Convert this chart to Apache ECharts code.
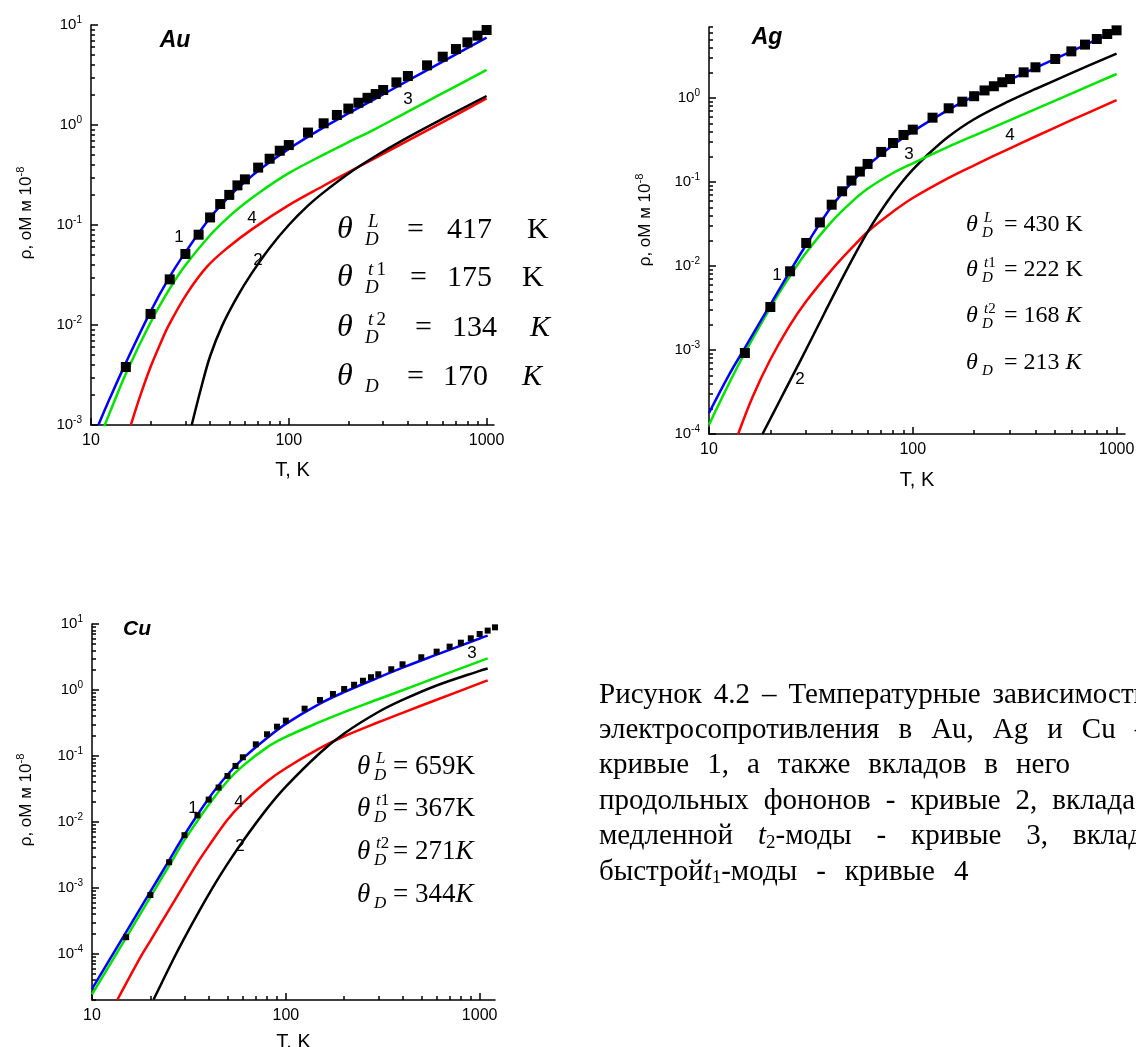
<!DOCTYPE html>
<html>
<head>
<meta charset="utf-8">
<style>
html, body { margin: 0; padding: 0; background: #fff; }
#chart { width: 1136px; height: 1047px; }
</style>
<script src="https://cdn.jsdelivr.net/npm/echarts@6/dist/echarts.min.js"></script>
</head>
<body>
<div id="chart"></div>
<script>
// ---- values ----
// measured points (squares): T in K, rho in 1e-8 Ohm m
const auT = [15, 20, 25, 30, 35, 40, 45, 50, 55, 60, 70, 80, 90, 100, 125, 150, 175, 200, 225, 250, 275, 300, 350, 400, 500, 600, 700, 800, 900, 1000];
const auRho = [0.0038, 0.0129, 0.0286, 0.0513, 0.080, 0.119, 0.162, 0.200, 0.249, 0.286, 0.375, 0.46, 0.553, 0.63, 0.84, 1.04, 1.26, 1.46, 1.67, 1.87, 2.04, 2.24, 2.67, 3.09, 3.95, 4.82, 5.75, 6.71, 7.82, 8.91];
const agT = [15, 20, 25, 30, 35, 40, 45, 50, 55, 60, 70, 80, 90, 100, 125, 150, 175, 200, 225, 250, 275, 300, 350, 400, 500, 600, 700, 800, 900, 1000];
const agRho = [0.00092, 0.00325, 0.00865, 0.0188, 0.033, 0.0537, 0.0775, 0.104, 0.133, 0.164, 0.228, 0.291, 0.363, 0.42, 0.583, 0.754, 0.904, 1.05, 1.23, 1.38, 1.54, 1.68, 2.02, 2.32, 2.91, 3.59, 4.32, 5.04, 5.78, 6.39];
const cuT = [15, 20, 25, 30, 35, 40, 45, 50, 55, 60, 70, 80, 90, 100, 125, 150, 175, 200, 225, 250, 275, 300, 350, 400, 500, 600, 700, 800, 900, 1000, 1100, 1200];
const cuRho = [0.000179, 0.00078, 0.00245, 0.0063, 0.0126, 0.0218, 0.0332, 0.0498, 0.0706, 0.0955, 0.150, 0.213, 0.278, 0.343, 0.521, 0.705, 0.87, 1.035, 1.2, 1.38, 1.56, 1.73, 2.06, 2.45, 3.13, 3.81, 4.54, 5.21, 6.07, 7.05, 7.94, 8.9];

// curves: 1 - total, 2 - longitudinal, 3 - slow t2, 4 - fast t1   [T, rho]
const auCurve1 = [[10.9, 0.001], [12.5, 0.00188], [15, 0.00418], [20, 0.0136], [25, 0.0304], [30, 0.0532], [40, 0.118], [50, 0.193], [60, 0.27], [75, 0.386], [100, 0.577], [150, 0.946], [200, 1.305], [270, 1.805], [400, 2.78], [600, 4.31], [1000, 7.48]];
const auCurve2 = [[32.3, 0.001], [36, 0.00233], [40, 0.00487], [46, 0.0098], [55, 0.0193], [65, 0.033], [80, 0.059], [100, 0.1], [125, 0.156], [150, 0.212], [200, 0.326], [270, 0.479], [400, 0.752], [600, 1.156], [1000, 1.95]];
const auCurve3 = [[11.5, 0.0009], [12.5, 0.00136], [15, 0.00326], [20, 0.0106], [25, 0.0231], [30, 0.0396], [40, 0.079], [50, 0.122], [60, 0.165], [75, 0.228], [100, 0.33], [150, 0.505], [200, 0.673], [270, 0.9], [400, 1.36], [600, 2.08], [1000, 3.55]];
const auCurve4 = [[15.9, 0.001], [17.8, 0.002], [20, 0.0038], [22.3, 0.00635], [24.7, 0.0099], [30.6, 0.0207], [38.6, 0.0383], [48.7, 0.0585], [65.8, 0.092], [100, 0.158], [150, 0.247], [200, 0.337], [270, 0.462], [400, 0.698], [600, 1.068], [1000, 1.85]];

const agCurve1 = [[10, 0.000178], [12.5, 0.0005], [15, 0.00106], [20, 0.00347], [25, 0.0087], [30, 0.0179], [40, 0.0513], [50, 0.098], [60, 0.156], [80, 0.275], [100, 0.40], [150, 0.726], [200, 1.05], [300, 1.65], [400, 2.28], [600, 3.59], [1000, 6.39]];
const agCurve2 = [[18.3, 0.0001], [22, 0.000237], [26, 0.00052], [30, 0.00102], [35, 0.00214], [40, 0.00406], [51, 0.01255], [61.6, 0.0282], [74.6, 0.0574], [87, 0.0946], [100, 0.14], [119, 0.214], [150, 0.348], [200, 0.559], [300, 0.928], [400, 1.28], [600, 1.975], [1000, 3.38]];
const agCurve3 = [[10, 0.000129], [12.5, 0.000394], [15, 0.000928], [20, 0.0032], [25, 0.00763], [30, 0.01445], [40, 0.0338], [50, 0.0577], [60, 0.0831], [80, 0.128], [100, 0.167], [150, 0.263], [200, 0.357], [300, 0.546], [400, 0.739], [600, 1.13], [1000, 1.93]];
const agCurve4 = [[13.9, 0.0001], [16.4, 0.00028], [20, 0.00077], [24.7, 0.0019], [30, 0.0038], [40, 0.009], [51, 0.0171], [61.6, 0.027], [80, 0.0444], [100, 0.0645], [150, 0.112], [200, 0.158], [300, 0.252], [400, 0.348], [600, 0.544], [1000, 0.944]];

const cuCurve1 = [[10, 2.95e-5], [12.5, 8.75e-5], [15, 2.14e-4], [20, 8.77e-4], [25, 0.00262], [30, 0.0064], [40, 0.0227], [50, 0.0518], [60, 0.0912], [80, 0.187], [100, 0.306], [150, 0.621], [200, 0.929], [300, 1.54], [400, 2.18], [600, 3.43], [1000, 6.02], [1100, 6.65]];
const cuCurve2 = [[20.8, 2.03e-5], [26.4, 8.5e-5], [30, 1.75e-4], [36.2, 4.77e-4], [43, 0.00114], [50, 0.00231], [60, 0.0051], [80, 0.0159], [100, 0.0343], [150, 0.111], [200, 0.219], [300, 0.463], [400, 0.706], [600, 1.17], [1000, 1.95], [1100, 2.12]];
const cuCurve3 = [[10, 2.44e-5], [12.5, 7.25e-5], [15, 1.77e-4], [20, 7.26e-4], [25, 0.00217], [30, 0.0053], [40, 0.01825], [50, 0.0417], [60, 0.0707], [80, 0.135], [100, 0.194], [150, 0.328], [200, 0.463], [300, 0.723], [400, 0.992], [600, 1.55], [1000, 2.72], [1100, 3.02]];
const cuCurve4 = [[13.5, 2e-5], [17.7, 8.7e-5], [20, 1.58e-4], [25, 4.7e-4], [30, 0.00114], [35, 0.0024], [40, 0.0043], [50, 0.0108], [60, 0.0194], [80, 0.041], [100, 0.065], [150, 0.131], [200, 0.199], [300, 0.324], [400, 0.451], [600, 0.71], [1000, 1.26], [1100, 1.40]];

const xTickLabels = [10, 100, 1000];
const auYTicks = [1e-3, 1e-2, 1e-1, 1, 10];
const agYTicks = [1e-4, 1e-3, 1e-2, 1e-1, 1];
const cuYTicks = [1e-4, 1e-3, 1e-2, 1e-1, 1, 10];

const auTheta = [['L', '417', 'K'], ['t 1', '175', 'K'], ['t 2', '134', 'K'], ['', '170', 'K']];
const agTheta = [['L', '430', 'K'], ['t1', '222', 'K'], ['t2', '168', 'K'], ['', '213', 'K']];
const cuTheta = [['L', '659', 'K'], ['t1', '367', 'K'], ['t2', '271', 'K'], ['', '344', 'K']];

const captionWords = [
  ['Рисунок', '4.2', '–', 'Температурные', 'зависимости'],
  ['электросопротивления', 'в', 'Au,', 'Ag', 'и', 'Cu', '–'],
  ['кривые', '1,', 'а', 'также', 'вкладов', 'в', 'него'],
  ['продольных', 'фононов', '-', 'кривые', '2,', 'вклада'],
  ['медленной', 't2-моды', '-', 'кривые', '3,', 'вклада'],
  ['быстройt1-моды', '-', 'кривые', '4']
];

// ---- layout ----
const SANS = 'Liberation Sans, Arial, sans-serif';
const SERIF = 'Liberation Serif, Times New Roman, serif';
const BLUE = '#0000ff', GREEN = '#00e600', RED = '#ff0000', BLACK = '#000000';

const panels = [
  { grid: { left: 91, top: 25, width: 403, height: 400 }, xMax: 1090, yMin: 1e-3, yMax: 10, yTicks: auYTicks,
    T: auT, rho: auRho, curves: [auCurve4, auCurve2, auCurve3, auCurve1], sym: 10, xNameGap: 35 },
  { grid: { left: 709, top: 27, width: 416, height: 407 }, xMax: 1100, yMin: 1e-4, yMax: 7, yTicks: agYTicks,
    T: agT, rho: agRho, curves: [agCurve4, agCurve2, agCurve3, agCurve1], sym: 10, xNameGap: 36 },
  { grid: { left: 92, top: 624, width: 403, height: 376 }, xMax: 1200, yMin: 2e-5, yMax: 10, yTicks: cuYTicks,
    T: cuT, rho: cuRho, curves: [cuCurve4, cuCurve2, cuCurve3, cuCurve1], sym: 6, xNameGap: 32 }
];
const curveColors = [RED, BLACK, GREEN, BLUE];

function minorTicks(lo, hi) {
  const out = [];
  for (let e = Math.floor(Math.log10(lo)); e <= Math.ceil(Math.log10(hi)); e++) {
    for (let m = 2; m <= 9; m++) {
      const v = +(m * Math.pow(10, e)).toPrecision(3);
      if (v >= lo * 0.999 && v <= hi * 1.001) out.push(v);
    }
  }
  return out;
}

const lineW = { color: '#000', width: 1.5 };
const xAxes = [], yAxes = [], series = [];

panels.forEach((p, i) => {
  xAxes.push({
    type: 'log', gridIndex: i, position: 'bottom', min: 10, max: p.xMax,
    axisLine: { show: true, onZero: false, lineStyle: lineW },
    axisTick: { show: true, inside: true, length: 7, customValues: xTickLabels, lineStyle: lineW },
    axisLabel: { customValues: xTickLabels, formatter: (v) => String(Math.round(v)), margin: 8,
      fontSize: 16, fontFamily: SANS, color: '#000' },
    splitLine: { show: false },
    name: 'T, K', nameLocation: 'middle', nameGap: p.xNameGap,
    nameTextStyle: { fontSize: 20, fontFamily: SANS, color: '#000' }
  });
  xAxes.push({
    type: 'log', gridIndex: i, position: 'bottom', min: 10, max: p.xMax,
    axisLine: { show: false },
    axisTick: { show: true, inside: true, length: 4, customValues: minorTicks(10, p.xMax), lineStyle: lineW },
    axisLabel: { show: false }, splitLine: { show: false }
  });
  yAxes.push({
    type: 'log', gridIndex: i, position: 'left', min: p.yMin, max: p.yMax,
    axisLine: { show: true, onZero: false, lineStyle: lineW },
    axisTick: { show: true, inside: true, length: 7, customValues: p.yTicks, lineStyle: lineW },
    axisLabel: {
      customValues: p.yTicks, margin: 9,
      formatter: (v) => '{b|10}{s|' + Math.round(Math.log10(v)) + '}',
      rich: {
        b: { fontSize: 15, fontFamily: SANS, color: '#000', lineHeight: 20 },
        s: { fontSize: 10, fontFamily: SANS, color: '#000', verticalAlign: 'top' }
      }
    },
    splitLine: { show: false }
  });
  yAxes.push({
    type: 'log', gridIndex: i, position: 'left', min: p.yMin, max: p.yMax,
    axisLine: { show: false },
    axisTick: { show: true, inside: true, length: 4, customValues: minorTicks(p.yMin, p.yMax), lineStyle: lineW },
    axisLabel: { show: false }, splitLine: { show: false }
  });

  p.curves.forEach((c, k) => {
    series.push({
      type: 'line', xAxisIndex: 2 * i, yAxisIndex: 2 * i, data: c,
      symbol: 'none', smooth: 0.35, z: 2 + k,
      lineStyle: { color: curveColors[k], width: 2.5 }
    });
  });
  series.push({
    type: 'scatter', xAxisIndex: 2 * i, yAxisIndex: 2 * i,
    data: p.T.map((t, k) => [t, p.rho[k]]),
    symbol: 'rect', symbolSize: p.sym, z: 10,
    itemStyle: { color: '#000', opacity: 1, borderWidth: 0 }
  });
});

// ---- text annotations ----
const graphics = [];

function txt(x, y, text, font, extra) {
  graphics.push({
    type: 'text', x: x, y: y, z: 100,
    style: Object.assign({ text: text, font: font, fill: '#000', align: 'center', verticalAlign: 'middle',
      textAlign: 'center', textVerticalAlign: 'middle' }, extra || {})
  });
}

// panel titles
txt(175, 41, 'Au', 'italic bold 23px ' + SANS);
txt(767, 38, 'Ag', 'italic bold 23px ' + SANS);
txt(137, 629, 'Cu', 'italic bold 21px ' + SANS);

// curve numbers
const numFont = '17px ' + SANS;
[[179, 237, '1'], [252, 218, '4'], [258, 260, '2'], [408, 99, '3'],
 [777, 275, '1'], [800, 379, '2'], [909, 154, '3'], [1010, 135, '4'],
 [193, 808, '1'], [239, 802, '4'], [240, 846, '2'], [472, 653, '3']].forEach((n) => txt(n[0], n[1], n[2], numFont));

// y axis names
const yNameRich = {
  n: { fontSize: 17, fontFamily: SANS, color: '#000', lineHeight: 22 },
  s: { fontSize: 11, fontFamily: SANS, color: '#000', verticalAlign: 'top' }
};
[[26, 213], [645, 220], [26, 800]].forEach((pos) => {
  graphics.push({
    type: 'text', x: pos[0], y: pos[1], rotation: Math.PI / 2, z: 100,
    style: { text: '{n|ρ, оМ м 10}{s|-8}', rich: yNameRich, align: 'center', verticalAlign: 'middle',
      textAlign: 'center', textVerticalAlign: 'middle' }
  });
});

// theta formulas
function left(x, y, text, font) {
  txt(x, y, text, font, { align: 'left', textAlign: 'left' });
}
function supText(s) {
  if (!s) return '';
  return s.replace(/t/, '{i|t}').replace(/(\d)/, '{n|$1}');
}

// Au: widely spaced
const auRows = [230, 278, 328, 377];
const auEq = [407, 410, 415, 407], auNum = [447, 447, 452, 443], auK = [527, 522, 530, 522];
auTheta.forEach((r, k) => {
  const y = auRows[k];
  left(337, y, 'θ', 'italic 32px ' + SERIF);
  if (r[0]) {
    graphics.push({ type: 'text', x: 368, y: y - 8, z: 100,
      style: { text: r[0] === 'L' ? '{i|L}' : supText(r[0]), align: 'left', verticalAlign: 'middle',
        rich: { i: { font: 'italic 19px ' + SERIF, fill: '#000' }, n: { font: '19px ' + SERIF, fill: '#000' } } } });
  }
  left(365, y + 10, 'D', 'italic 19px ' + SERIF);
  left(auEq[k], y, '=', '30px ' + SERIF);
  left(auNum[k], y, r[1], '30px ' + SERIF);
  left(auK[k], y, r[2], (k >= 2 ? 'italic ' : '') + '30px ' + SERIF);
});

// Ag and Cu: compact
function compactRows(rows, x0, size, subSize, supDx, restDx, list, italicK, spaceBeforeK) {
  list.forEach((r, k) => {
    const y = rows[k];
    left(x0, y, 'θ', 'italic ' + size + 'px ' + SERIF);
    if (r[0]) {
      graphics.push({ type: 'text', x: x0 + supDx + 2, y: y - size * 0.3, z: 100,
        style: { text: r[0] === 'L' ? '{i|L}' : supText(r[0]), align: 'left', verticalAlign: 'middle',
          rich: { i: { font: 'italic ' + subSize + 'px ' + SERIF, fill: '#000' }, n: { font: subSize + 'px ' + SERIF, fill: '#000' } } } });
    }
    left(x0 + supDx, y + size * 0.32, 'D', 'italic ' + subSize + 'px ' + SERIF);
    graphics.push({ type: 'text', x: x0 + restDx, y: y, z: 100,
      style: { text: '{n|= ' + r[1] + (spaceBeforeK ? ' ' : '') + '}{' + (italicK[k] ? 'i' : 'n') + '|' + r[2] + '}',
        align: 'left', verticalAlign: 'middle',
        rich: { n: { font: size + 'px ' + SERIF, fill: '#000' }, i: { font: 'italic ' + size + 'px ' + SERIF, fill: '#000' } } } });
  });
}
compactRows([225, 270, 316, 363], 966, 24, 15, 16, 38, agTheta, [false, false, true, true], true);
compactRows([767, 809, 852, 895], 357, 27, 17, 17, 36, cuTheta, [false, false, true, true], false);

// caption: words spread with a fixed gap per line (justified look)
const CAP = 29;
const capGaps = [12, 19, 18, 15, 25, 19];
const measureCtx = document.createElement('canvas').getContext('2d');
function segs(word) {
  return word.split(/(t[12])/).filter((s) => s).map((s) => /^t[12]$/.test(s)
    ? [['i', 't'], ['sub', s[1]]] : [['n', s]]).flat();
}
const capFonts = { n: CAP + 'px ' + SERIF, i: 'italic ' + CAP + 'px ' + SERIF, sub: '19px ' + SERIF };
function wordWidth(word) {
  return segs(word).reduce((w, s) => { measureCtx.font = capFonts[s[0]]; return w + measureCtx.measureText(s[1]).width; }, 0);
}
captionWords.forEach((words, li) => {
  let x = 599;
  const y = 695 + li * 35.4;
  words.forEach((w) => {
    graphics.push({ type: 'text', x: x, y: y, z: 100,
      style: { text: segs(w).map((s) => '{' + s[0] + '|' + s[1] + '}').join(''), align: 'left', verticalAlign: 'middle',
        rich: {
          n: { font: capFonts.n, fill: '#000', lineHeight: 32 },
          i: { font: capFonts.i, fill: '#000', lineHeight: 32 },
          sub: { font: capFonts.sub, fill: '#000', verticalAlign: 'bottom' }
        } } });
    x += wordWidth(w) + capGaps[li];
  });
});

const chart = echarts.init(document.getElementById('chart'), null, { renderer: 'canvas' });
chart.setOption({
  animation: false,
  backgroundColor: '#fff',
  grid: panels.map((p) => Object.assign({ outerBoundsMode: 'none', containLabel: false }, p.grid)),
  xAxis: xAxes,
  yAxis: yAxes,
  series: series,
  graphic: { elements: graphics }
});
</script>
</body>
</html>
